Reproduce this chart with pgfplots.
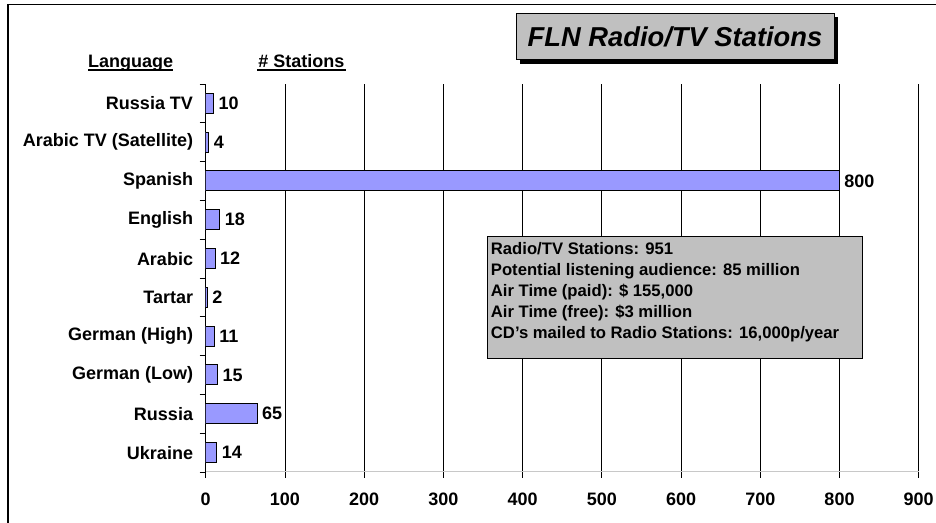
\documentclass[border=0pt]{standalone}
\usepackage{fontspec}
\setmainfont{Liberation Sans}
\usepackage{pgfplots}
\pgfplotsset{compat=1.18}
\definecolor{barblue}{HTML}{9999FF}
\definecolor{boxgrey}{HTML}{C0C0C0}
\definecolor{axisgrey}{HTML}{C8C8C8}
\begin{document}
\begin{tikzpicture}
\useasboundingbox (0pt,0pt) rectangle (702pt,-392.25pt);
\draw[line width=1.1pt] (6pt,-392.25pt) -- (6pt,-3.5pt) -- (702pt,-3.5pt);
\begin{axis}[
  at={(154.3pt,-354pt)}, anchor=south west,
  scale only axis, width=534.75pt, height=291pt,
  xbar, bar width=15pt,
  xmin=0, xmax=900, ymin=-0.5, ymax=9.5,
  axis x line*=bottom, axis y line*=left,
  x axis line style={-, draw=axisgrey, line width=0.75pt},
  y axis line style={-, draw=black, line width=0.8pt},
  xtick={0,100,...,900},
  xticklabels={0,100,200,300,400,500,600,700,800,900},
  ytick={-0.5,0.5,...,9.5},
  y tick label as interval,
  yticklabels={Ukraine,Russia,German (Low),German (High),Tartar,Arabic,English,Spanish,Arabic TV (Satellite),Russia TV},
  tick align=outside,
  major tick length=4.5pt,
  tick style={black, line width=0.6pt},
  xmajorgrids,
  grid style={black, line width=0.6pt},
  ticklabel style={font=\bfseries\fontsize{13.5}{16}\selectfont},
  yticklabel style={xshift=-1.5pt},
  xticklabel style={yshift=-8pt},
  /pgf/number format/assume math mode=true,
  nodes near coords,
  nodes near coords style={font=\bfseries\fontsize{13.5}{16}\selectfont, anchor=west, black},
]
\addplot[fill=barblue, draw=black, line width=0.75pt] coordinates {
  (14,0) (65,1) (15,2) (11,3) (2,4) (12,5) (18,6) (800,7) (4,8) (10,9)
};
\end{axis}
% title box
\fill[black] (390pt,-13pt) rectangle (628.5pt,-48pt);
\draw[fill=boxgrey, line width=0.75pt] (387pt,-10pt) rectangle (625.5pt,-45pt);
\node[font=\bfseries\itshape\fontsize{20.5}{24}\selectfont] at (506.25pt,-27.5pt) {FLN Radio/TV Stations};
% headers
\node[anchor=base, font=\bfseries\fontsize{13.5}{16}\selectfont, inner sep=0pt] at (97.9pt,-51pt) {Language};
\draw[line width=1.1pt] (66pt,-52.5pt) -- (129.75pt,-52.5pt);
\node[anchor=base, font=\bfseries\fontsize{13.5}{16}\selectfont, inner sep=0pt] at (226.1pt,-51pt) {\# Stations};
\draw[line width=1.1pt] (192.75pt,-52.5pt) -- (259.5pt,-52.5pt);
% info box
\draw[fill=boxgrey, line width=0.75pt] (365.25pt,-177.75pt) rectangle (646.5pt,-269.25pt);
\begin{scope}[every node/.style={anchor=base west, inner sep=0pt, font=\bfseries\fontsize{12.5}{15}\selectfont}]
\node at (368pt,-191pt) {Radio/TV Stations: 951};
\node at (368pt,-206.75pt) {Potential listening audience: 85 million};
\node at (368pt,-222.5pt) {Air Time (paid): \$ 155,000};
\node at (368pt,-238.25pt) {Air Time (free): \$3 million};
\node at (368pt,-254pt) {CD’s mailed to Radio Stations: 16,000p/year};
\end{scope}
\end{tikzpicture}
\end{document}
